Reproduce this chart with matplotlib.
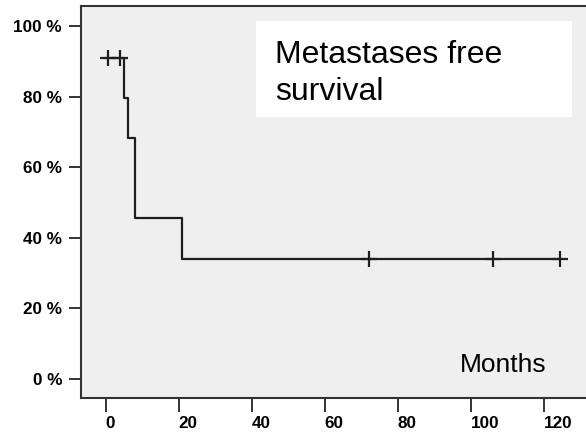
import numpy as np
import matplotlib.pyplot as plt
from matplotlib.patches import Rectangle

# Kaplan-Meier step data (months, survival %)
event_times = [0, 5, 6, 8, 21, 124.5]
survival = [90.9, 79.5, 68.2, 45.5, 34.1, 34.1]
censor_times = [0.5, 3.8, 72, 106, 124.5]

x_ticks = [0, 20, 40, 60, 80, 100, 120]
y_ticks = [0, 20, 40, 60, 80, 100]
y_labels = ["0 %", "20 %", "40 %", "60 %", "80 %", "100 %"]


def surv_at(t):
    i = np.searchsorted(event_times, t, side="right") - 1
    return survival[i]


fig = plt.figure(figsize=(5.86, 4.32), dpi=100)
ax = fig.add_axes([0.138, 0.079, 0.862, 0.907])
ax.set_facecolor("#efefef")

ax.step(event_times, survival, where="post", color="#1e1e1e", lw=1.6)
ax.plot(censor_times, [surv_at(t) for t in censor_times], ls="none",
        marker="+", ms=11, mew=1.6, color="#1e1e1e")

ax.set_xlim(-6.8, 131.5)
ax.set_ylim(-5.4, 105.7)
ax.set_xticks(x_ticks)
ax.set_yticks(y_ticks)
ax.set_yticklabels(y_labels)
for lab in ax.get_xticklabels() + ax.get_yticklabels():
    lab.set_family("Liberation Sans")
    lab.set_fontweight("bold")
    lab.set_fontsize(12.3)
plt.setp(ax.get_xticklabels(), ha="left")

ax.tick_params(axis="y", length=8.5, width=1.4, color="#333333", pad=5)
ax.tick_params(axis="x", length=10, width=1.4, color="#333333", pad=3)
ax.spines["right"].set_visible(False)
for s in ["left", "top", "bottom"]:
    ax.spines[s].set_color("#333333")
    ax.spines[s].set_linewidth(1.5)

# white label box
ax.add_patch(Rectangle((0.3465, 0.717), 0.6255, 0.245, transform=ax.transAxes,
                       fc="white", ec="none", zorder=3))
ax.text(0.384, 0.855, "Metastases free", transform=ax.transAxes,
        family="Liberation Sans", fontsize=23, va="baseline", ha="left", zorder=4)
ax.text(0.384, 0.760, "survival", transform=ax.transAxes,
        family="Liberation Sans", fontsize=23, va="baseline", ha="left", zorder=4)
ax.text(0.921, 0.066, "Months", transform=ax.transAxes,
        family="Liberation Sans", fontsize=19, ha="right", va="baseline")

fig.savefig("out.png", dpi=100)
